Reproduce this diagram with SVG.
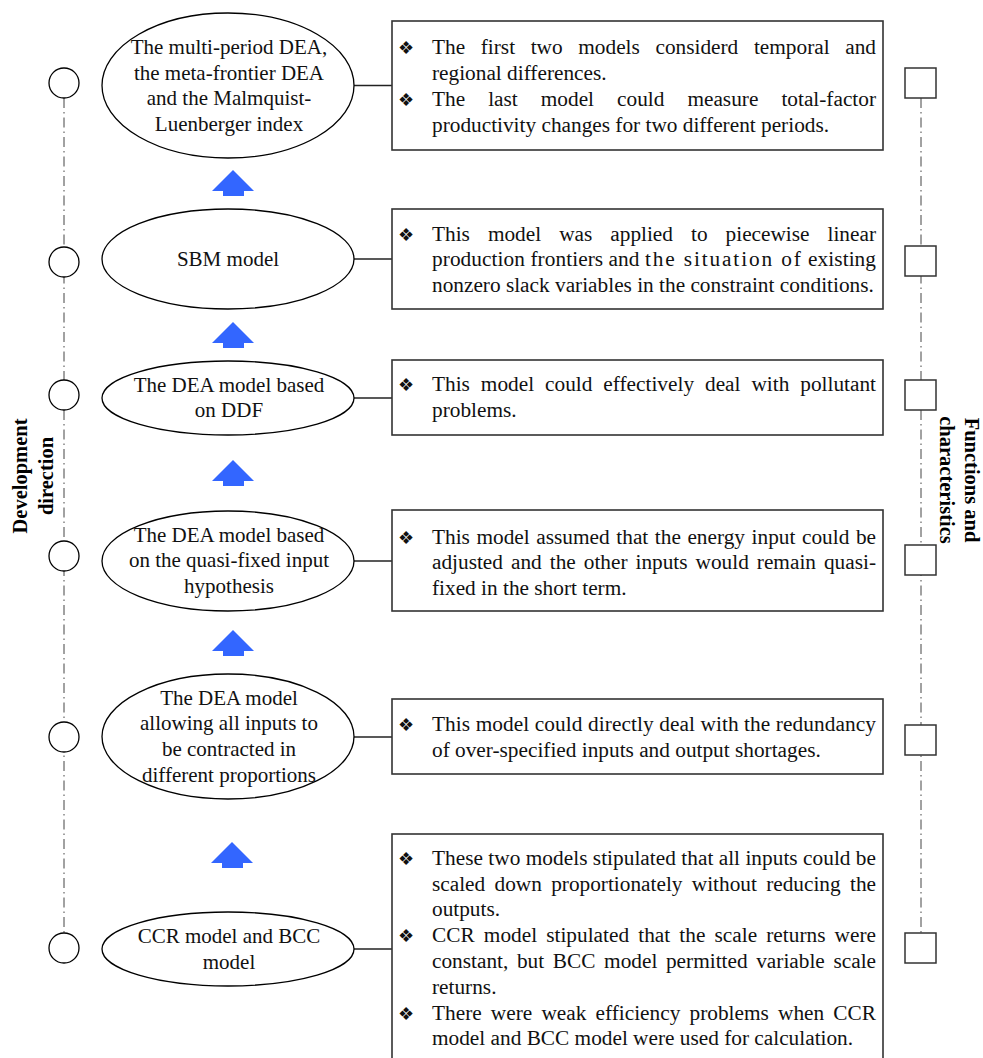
<svg xmlns="http://www.w3.org/2000/svg" width="983" height="1058" viewBox="0 0 983 1058">
  <style>
    .ell { fill: #ffffff; stroke: #000000; stroke-width: 1.3; }
    .dot { fill: #ffffff; stroke: #000000; stroke-width: 1.3; }
    .sq { fill: #ffffff; stroke: #333333; stroke-width: 1.5; }
    .box { fill: #ffffff; stroke: #333333; stroke-width: 1.6; }
    .link { stroke: #222222; stroke-width: 1.3; fill: none; }
    .axis { stroke: #444444; stroke-width: 1; fill: none; stroke-dasharray: 10 4 1.5 4; }
    .up { fill: #3366ff; }
    .et { font-family: "Liberation Serif", "Times New Roman", serif; font-size: 21px; fill: #111111; text-anchor: middle; }
    .bt { font-family: "Liberation Serif", "Times New Roman", serif; font-size: 21.3px; fill: #111111; }
    .bul { font-family: "DejaVu Sans", sans-serif; font-size: 18px; fill: #111111; }
    .side { font-family: "Liberation Serif", "Times New Roman", serif; font-size: 20.5px; font-weight: bold; fill: #000000; text-anchor: middle; }
  </style>
  <defs>
    <path id="uparrow" d="M0,0 L21,21 L11,21 L11,26 L-10,26 L-10,21 L-21,21 Z"/>
  </defs>

  <!-- timeline axes and ellipse-to-box links -->
  <g id="connectors">
    <line class="axis" x1="64" y1="98" x2="64" y2="933"/>
    <line class="axis" x1="921" y1="98" x2="921" y2="933"/>
    <line class="link" x1="354" y1="85.5" x2="392" y2="85.5"/>
    <line class="link" x1="354" y1="259" x2="392" y2="259"/>
    <line class="link" x1="354" y1="398" x2="392" y2="398"/>
    <line class="link" x1="354" y1="561" x2="392" y2="561"/>
    <line class="link" x1="354" y1="737" x2="392" y2="737"/>
    <line class="link" x1="354" y1="949" x2="392" y2="949"/>
  </g>

  <!-- development arrows -->
  <g id="arrows">
    <use href="#uparrow" class="up" x="233" y="170"/>
    <use href="#uparrow" class="up" x="233" y="322"/>
    <use href="#uparrow" class="up" x="233" y="460"/>
    <use href="#uparrow" class="up" x="233" y="630"/>
    <use href="#uparrow" class="up" x="232" y="842"/>
  </g>

  <!-- left markers -->
  <g id="markers-left">
    <circle class="dot" cx="64" cy="83" r="15"/>
    <circle class="dot" cx="64" cy="262" r="15"/>
    <circle class="dot" cx="64" cy="395" r="15"/>
    <circle class="dot" cx="64" cy="556" r="15"/>
    <circle class="dot" cx="64" cy="737" r="15"/>
    <circle class="dot" cx="64" cy="948" r="15"/>
  </g>

  <!-- right markers -->
  <g id="markers-right">
    <rect class="sq" x="905" y="68" width="31" height="30"/>
    <rect class="sq" x="905" y="246" width="31" height="30"/>
    <rect class="sq" x="905" y="380" width="31" height="30"/>
    <rect class="sq" x="905" y="545" width="31" height="30"/>
    <rect class="sq" x="905" y="725" width="31" height="30"/>
    <rect class="sq" x="905" y="933" width="31" height="30"/>
  </g>

  <!-- axis titles -->
  <g id="label-development">
    <text class="side" transform="translate(0,476) rotate(-90)"><tspan x="0" y="27">Development</tspan><tspan x="0" y="53">direction</tspan></text>
  </g>
  <g id="label-functions">
    <text class="side" transform="translate(990,480) rotate(90)"><tspan x="0" y="25">Functions and</tspan><tspan x="0" y="50">characteristics</tspan></text>
  </g>

  <!-- model nodes -->
  <g id="node-multiperiod">
    <ellipse class="ell" cx="228" cy="85.5" rx="126" ry="72.5"/>
    <text class="et"><tspan x="229" y="54">The multi-period DEA,</tspan><tspan x="229" y="80">the meta-frontier DEA</tspan><tspan x="229" y="105">and the Malmquist-</tspan><tspan x="229" y="131">Luenberger index</tspan></text>
  </g>
  <g id="node-sbm">
    <ellipse class="ell" cx="228" cy="259" rx="126" ry="50"/>
    <text class="et" x="228" y="266">SBM model</text>
  </g>
  <g id="node-ddf">
    <ellipse class="ell" cx="228" cy="398" rx="126" ry="37"/>
    <text class="et"><tspan x="229" y="392">The DEA model based</tspan><tspan x="229" y="417">on DDF</tspan></text>
  </g>
  <g id="node-quasifixed">
    <ellipse class="ell" cx="228" cy="561" rx="126" ry="50"/>
    <text class="et"><tspan x="229" y="542">The DEA model based</tspan><tspan x="229" y="567">on the quasi-fixed input</tspan><tspan x="229" y="593">hypothesis</tspan></text>
  </g>
  <g id="node-contracted">
    <ellipse class="ell" cx="228" cy="736.5" rx="126" ry="62.5"/>
    <text class="et"><tspan x="229" y="705">The DEA model</tspan><tspan x="229" y="730">allowing all inputs to</tspan><tspan x="229" y="756">be contracted in</tspan><tspan x="229" y="782">different proportions</tspan></text>
  </g>
  <g id="node-ccr-bcc">
    <ellipse class="ell" cx="228" cy="949" rx="126" ry="37"/>
    <text class="et"><tspan x="229" y="943">CCR model and BCC</tspan><tspan x="229" y="969">model</tspan></text>
  </g>

  <!-- characteristic boxes -->
  <g id="box-multiperiod">
    <rect class="box" x="392" y="21" width="491" height="129"/>
    <text class="bul" x="398" y="54">❖</text>
    <text class="bt" x="432" y="54" word-spacing="10.3" textLength="444" lengthAdjust="spacing">The first two models considerd temporal and</text>
    <text class="bt" x="432" y="80">regional differences.</text>
    <text class="bul" x="398" y="106">❖</text>
    <text class="bt" x="432" y="106" word-spacing="17.7" textLength="444" lengthAdjust="spacing">The last model could measure total-factor</text>
    <text class="bt" x="432" y="132">productivity changes for two different periods.</text>
  </g>
  <g id="box-sbm">
    <rect class="box" x="392" y="209" width="491" height="100"/>
    <text class="bul" x="398" y="241">❖</text>
    <text class="bt" x="432" y="241" word-spacing="12.7" textLength="444" lengthAdjust="spacing">This model was applied to piecewise linear</text>
    <text class="bt" x="432" y="266" textLength="444" lengthAdjust="spacing">production frontiers and <tspan letter-spacing="1.8">the situation of</tspan> existing</text>
    <text class="bt" x="432" y="292">nonzero slack variables in the constraint conditions.</text>
  </g>
  <g id="box-ddf">
    <rect class="box" x="392" y="360" width="491" height="75"/>
    <text class="bul" x="398" y="391">❖</text>
    <text class="bt" x="432" y="391" word-spacing="5.6" textLength="444" lengthAdjust="spacing">This model could effectively deal with pollutant</text>
    <text class="bt" x="432" y="417">problems.</text>
  </g>
  <g id="box-quasifixed">
    <rect class="box" x="392" y="510" width="491" height="101"/>
    <text class="bul" x="398" y="544">❖</text>
    <text class="bt" x="432" y="544" word-spacing="1.2" textLength="444" lengthAdjust="spacing">This model assumed that the energy input could be</text>
    <text class="bt" x="432" y="569" word-spacing="2.7" textLength="444" lengthAdjust="spacing">adjusted and the other inputs would remain quasi-</text>
    <text class="bt" x="432" y="595">fixed in the short term.</text>
  </g>
  <g id="box-contracted">
    <rect class="box" x="392" y="699" width="491" height="75"/>
    <text class="bul" x="398" y="731">❖</text>
    <text class="bt" x="432" y="731" textLength="444" lengthAdjust="spacing">This model could directly deal with the redundancy</text>
    <text class="bt" x="432" y="757">of over-specified inputs and output shortages.</text>
  </g>
  <g id="box-ccr-bcc">
    <rect class="box" x="392" y="834" width="491" height="232"/>
    <text class="bul" x="398" y="865">❖</text>
    <text class="bt" x="432" y="865" textLength="444" lengthAdjust="spacing">These two models stipulated that all inputs could be</text>
    <text class="bt" x="432" y="891" word-spacing="4" textLength="444" lengthAdjust="spacing">scaled down proportionately without reducing the</text>
    <text class="bt" x="432" y="916">outputs.</text>
    <text class="bul" x="398" y="942">❖</text>
    <text class="bt" x="432" y="942" word-spacing="3.8" textLength="444" lengthAdjust="spacing">CCR model stipulated that the scale returns were</text>
    <text class="bt" x="432" y="968" word-spacing="3.3" textLength="444" lengthAdjust="spacing">constant, but BCC model permitted variable scale</text>
    <text class="bt" x="432" y="994">returns.</text>
    <text class="bul" x="398" y="1020">❖</text>
    <text class="bt" x="432" y="1020" word-spacing="3.8" textLength="444" lengthAdjust="spacing">There were weak efficiency problems when CCR</text>
    <text class="bt" x="432" y="1045">model and BCC model were used for calculation.</text>
  </g>
</svg>
